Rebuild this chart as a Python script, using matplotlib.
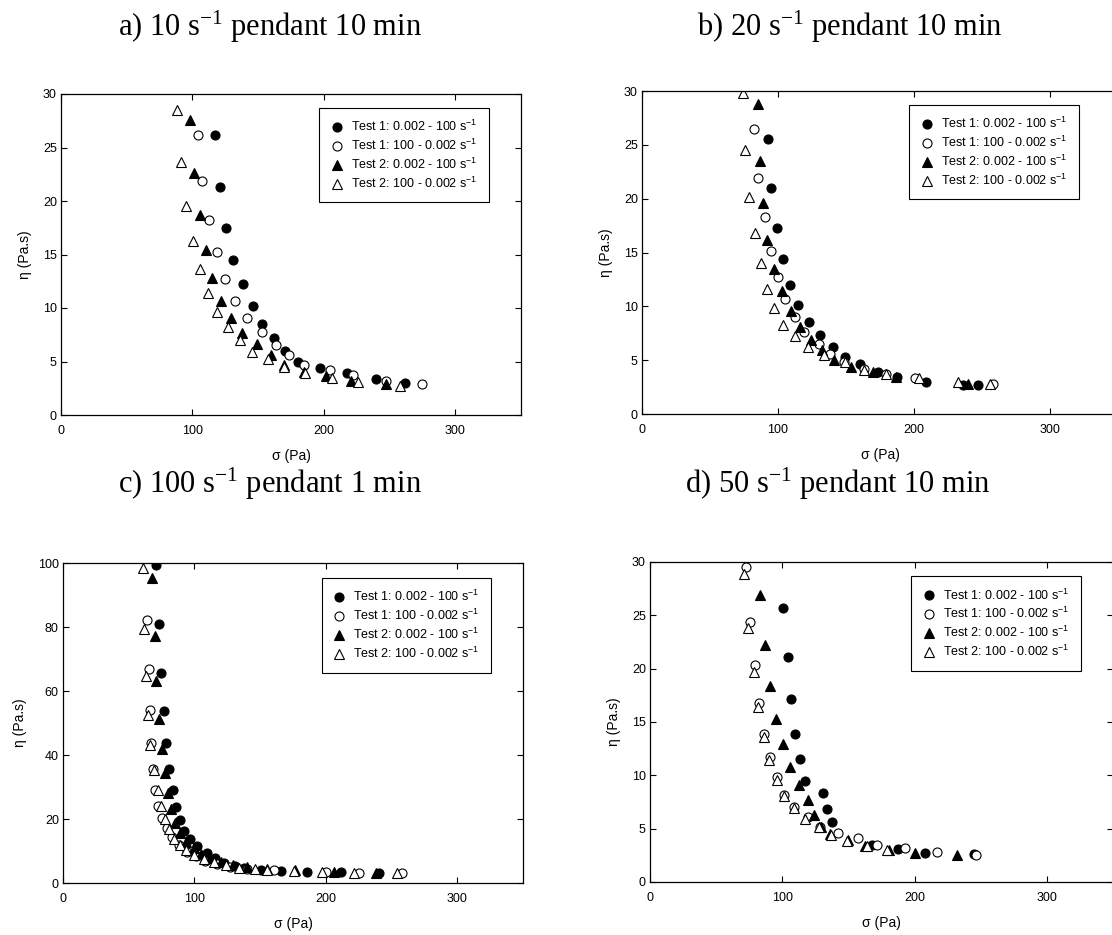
import matplotlib
matplotlib.use('Agg')
import matplotlib.pyplot as plt

#-----------------------------------------------------------------
#---                     Data            ---
#-----------------------------------------------------------------
titles = ['a) 10 s$\\mathregular{^{-1}}$ pendant 10 min',
          'b) 20 s$\\mathregular{^{-1}}$ pendant 10 min',
          'c) 100 s$\\mathregular{^{-1}}$ pendant 1 min',
          'd) 50 s$\\mathregular{^{-1}}$ pendant 10 min']
labels = ['Test 1: 0.002 - 100 s$\\mathregular{^{-1}}$',
          'Test 1: 100 - 0.002 s$\\mathregular{^{-1}}$',
          'Test 2: 0.002 - 100 s$\\mathregular{^{-1}}$',
          'Test 2: 100 - 0.002 s$\\mathregular{^{-1}}$']

# panel a
a_t1up_sig = [117, 121.0, 125.9, 130.5, 138.5, 145.9, 152.8, 162.1, 170.8, 180.0, 196.9, 217.9, 240, 262]
a_t1up_eta = [26.2, 21.3, 17.5, 14.5, 12.2, 10.2, 8.5, 7.2, 6.0, 5.0, 4.4, 3.9, 3.4, 3.0]
a_t1dn_sig = [104, 107.2, 112.6, 118.5, 125.1, 132.6, 141.5, 152.8, 163.3, 173.3, 185.1, 204.6, 222, 247, 275]
a_t1dn_eta = [26.2, 21.9, 18.2, 15.2, 12.7, 10.7, 9.05, 7.8, 6.5, 5.6, 4.7, 4.2, 3.7, 3.2, 2.9]
a_t2up_sig = [98, 101.5, 105.4, 110.3, 115.1, 121.5, 129.2, 137.9, 149.2, 159.5, 170, 184.6, 202, 221, 247]
a_t2up_eta = [27.6, 22.6, 18.7, 15.4, 12.8, 10.7, 9.1, 7.7, 6.65, 5.6, 4.7, 4.05, 3.6, 3.2, 2.9]
a_t2dn_sig = [88, 91.3, 95.1, 100.3, 105.6, 112, 119, 127.4, 135.9, 145.4, 157.7, 169.5, 185.6, 206.4, 226, 258]
a_t2dn_eta = [28.5, 23.6, 19.5, 16.3, 13.6, 11.4, 9.6, 8.2, 7.0, 5.9, 5.2, 4.5, 3.9, 3.5, 3.1, 2.7]

# panel b
b_t1up_sig = [93, 95.1, 99.3, 103.7, 108.8, 114.9, 122.7, 131.2, 140.7, 149, 160, 173.2, 187.8, 208.8, 236, 247]
b_t1up_eta = [25.5, 21.0, 17.3, 14.4, 12.0, 10.1, 8.55, 7.3, 6.2, 5.25, 4.6, 3.9, 3.4, 3.0, 2.7, 2.7]
b_t1dn_sig = [82, 85.6, 90.5, 94.6, 100, 105.4, 112.2, 119, 129.8, 138.5, 148.8, 163.4, 179.3, 200.5, 258]
b_t1dn_eta = [26.5, 21.9, 18.3, 15.1, 12.7, 10.7, 9.0, 7.6, 6.5, 5.6, 4.8, 4.2, 3.7, 3.3, 2.8]
b_t2up_sig = [85, 87, 89, 92.2, 97.1, 102.7, 109.3, 116.1, 124.6, 132.7, 141.5, 153.7, 170, 187.1, 240]
b_t2up_eta = [28.8, 23.5, 19.6, 16.2, 13.5, 11.4, 9.6, 8.1, 6.9, 5.9, 5.0, 4.35, 3.9, 3.45, 2.8]
b_t2dn_sig = [74, 76, 78.8, 83.4, 87.3, 91.7, 96.8, 103.7, 112.2, 122, 133.7, 149.3, 163.4, 179.5, 203.7, 232, 256]
b_t2dn_eta = [29.8, 24.5, 20.2, 16.8, 14.0, 11.6, 9.8, 8.3, 7.2, 6.2, 5.45, 4.8, 4.1, 3.7, 3.35, 3.0, 2.8]

# panel c
c_t1up_sig = [71.1, 72.8, 74.9, 76.9, 78.7, 81.0, 83.5, 86.1, 89.1, 92.4, 96.9, 102.0, 109.7, 116.0, 122.3,
              131.2, 137.6, 150.3, 165.5, 185.6, 211.2, 240.4]
c_t1up_eta = [99.5, 80.8, 65.7, 53.8, 43.6, 35.6, 29.2, 23.9, 19.7, 16.3, 13.7, 11.6, 9.3, 7.8, 6.4,
              5.4, 4.65, 4.1, 3.8, 3.4, 3.4, 3.1]
c_t1dn_sig = [64.0, 65.5, 66.0, 67.0, 68.5, 69.8, 72.0, 75.3, 79.1, 83, 88, 94, 101, 108, 117, 127, 140,
              160.4, 199.8, 225.1, 258.2]
c_t1dn_eta = [82.3, 67.0, 54.1, 43.9, 35.6, 29.2, 24.0, 20.3, 17.3, 14.3, 11.8, 9.8, 8.3, 7.0, 5.9, 5.1, 4.5,
              4.1, 3.4, 3.1, 3.0]
c_t2up_sig = [67.8, 69.8, 71.1, 72.8, 75.3, 77.4, 79.6, 82.1, 85.4, 89.3, 93.9, 99.5, 105, 112, 120, 129,
              140, 155, 176.9, 206.1, 237.9]
c_t2up_eta = [95.3, 77.1, 63, 51.2, 41.9, 34.4, 28.2, 23, 18.9, 15.6, 12.9, 10.8, 9.2, 7.8, 6.6, 5.6,
              4.9, 4.3, 4.0, 3.4, 3.1]
c_t2dn_sig = [60.9, 61.4, 62.9, 64.4, 66.4, 69, 72, 74.8, 77.9, 80.4, 84.7, 88.8, 93.9, 100, 107, 115, 124,
              134, 146, 155.3, 176, 197.3, 221.3, 254.5]
c_t2dn_eta = [98.4, 79.5, 64.7, 52.5, 43.2, 35.2, 29.2, 24.0, 20.1, 16.8, 13.9, 11.8, 10.3, 8.9, 7.6, 6.5, 5.5,
              4.8, 4.4, 4.1, 3.9, 3.4, 3.2, 3.0]

# panel d
d_t1up_sig = [100.4, 104.2, 106.9, 109.4, 113.2, 117.2, 130.4, 133.6, 137.7, 167.7, 187.8, 208, 244.6]
d_t1up_eta = [25.7, 21.1, 17.2, 13.9, 11.5, 9.45, 8.3, 6.8, 5.6, 3.5, 3.05, 2.7, 2.6]
d_t1dn_sig = [72.4, 75.6, 79.4, 82.7, 86.2, 90.8, 95.8, 101.6, 108.9, 119.8, 128.6, 142.4, 157.6, 171.5,
              192.9, 216.9, 246.6]
d_t1dn_eta = [29.5, 24.4, 20.3, 16.8, 13.9, 11.7, 9.8, 8.2, 7.0, 6.1, 5.2, 4.6, 4.1, 3.5, 3.2, 2.85, 2.55]
d_t2up_sig = [83.2, 87, 90.8, 95.1, 100.4, 106.2, 112.8, 119.8, 124.1, 129.2, 135.7, 149.3, 162.7, 180.4,
              200.6, 232]
d_t2up_eta = [26.9, 22.2, 18.4, 15.3, 12.9, 10.8, 9.1, 7.7, 6.3, 5.2, 4.5, 3.9, 3.4, 3.0, 2.7, 2.5]
d_t2dn_sig = [71.4, 74.4, 78.4, 81.9, 85.9, 90.2, 95.7, 101.5, 108.5, 117.3, 127.9, 136.7, 148.8, 164, 179.1]
d_t2dn_eta = [28.9, 23.8, 19.7, 16.4, 13.6, 11.45, 9.6, 8.1, 6.9, 5.9, 5.2, 4.4, 3.8, 3.4, 3.0]

panels = [
    ([(a_t1up_sig, a_t1up_eta), (a_t1dn_sig, a_t1dn_eta), (a_t2up_sig, a_t2up_eta), (a_t2dn_sig, a_t2dn_eta)],
     30, [0, 5, 10, 15, 20, 25, 30]),
    ([(b_t1up_sig, b_t1up_eta), (b_t1dn_sig, b_t1dn_eta), (b_t2up_sig, b_t2up_eta), (b_t2dn_sig, b_t2dn_eta)],
     30, [0, 5, 10, 15, 20, 25, 30]),
    ([(c_t1up_sig, c_t1up_eta), (c_t1dn_sig, c_t1dn_eta), (c_t2up_sig, c_t2up_eta), (c_t2dn_sig, c_t2dn_eta)],
     100, [0, 20, 40, 60, 80, 100]),
    ([(d_t1up_sig, d_t1up_eta), (d_t1dn_sig, d_t1dn_eta), (d_t2up_sig, d_t2up_eta), (d_t2dn_sig, d_t2dn_eta)],
     30, [0, 5, 10, 15, 20, 25, 30]),
]

#-----------------------------------------------------------------
#---                     Layout / style                        ---
#-----------------------------------------------------------------
W, H = 1112.0, 935.0
# axes boxes in pixels: left, right, top, bottom
boxes = [(61, 521, 94, 415), (642, 1118, 91, 414), (63, 523, 563, 883), (650, 1113, 562, 882)]
title_pos = [(270, 27), (850, 27), (270, 484), (838, 484)]
leg_anchor = [(0.561, 0.957), (0.561, 0.957), (0.562, 0.953), (0.564, 0.956)]
styles = [dict(marker='o', mfc='black'), dict(marker='o', mfc='white'),
          dict(marker='^', mfc='black'), dict(marker='^', mfc='white')]

sans = 'Liberation Sans'
serif = 'Liberation Serif'

fig = plt.figure(figsize=(W / 100, H / 100), dpi=100)

for i, (series, ymax, yticks) in enumerate(panels):
    l, r, t, b = boxes[i]
    ax = fig.add_axes([l / W, 1 - b / H, (r - l) / W, (b - t) / H])
    for (sig, eta), st, lab in zip(series, styles, labels):
        ax.plot(sig, eta, linestyle='none', marker=st['marker'], markersize=6.5,
                markerfacecolor=st['mfc'], markeredgecolor='black', markeredgewidth=0.8,
                label=lab)
    ax.set_xlim(0, 350)
    ax.set_ylim(0, ymax)
    ax.set_xticks([0, 100, 200, 300])
    ax.set_yticks(yticks)
    ax.yaxis.set_ticks_position('both')
    ax.xaxis.set_ticks_position('both')
    ax.tick_params(axis='both', which='major', direction='in', length=4, width=0.8,
                   labelsize=9, pad=3)
    ax.tick_params(axis='x', pad=7)
    for lbl in ax.get_xticklabels() + ax.get_yticklabels():
        lbl.set_family(sans)
    for sp in ax.spines.values():
        sp.set_linewidth(0.9)
    ax.set_xlabel('\u03c3 (Pa)', family=sans, fontsize=10, labelpad=9)
    ax.set_ylabel('\u03b7 (Pa.s)', family=sans, fontsize=10, labelpad=8)
    leg = ax.legend(loc='upper left', bbox_to_anchor=leg_anchor[i], borderaxespad=0,
                    prop={'family': sans, 'size': 9}, fancybox=False, framealpha=1,
                    edgecolor='black', handletextpad=0.65, handlelength=1.0,
                    labelspacing=0.3, borderpad=0.9)
    leg.get_frame().set_linewidth(0.8)
    tx, ty = title_pos[i]
    fig.text(tx / W, 1 - ty / H, titles[i], family=serif, fontsize=22,
             ha='center', va='center')

fig.savefig('out.png', dpi=100)
